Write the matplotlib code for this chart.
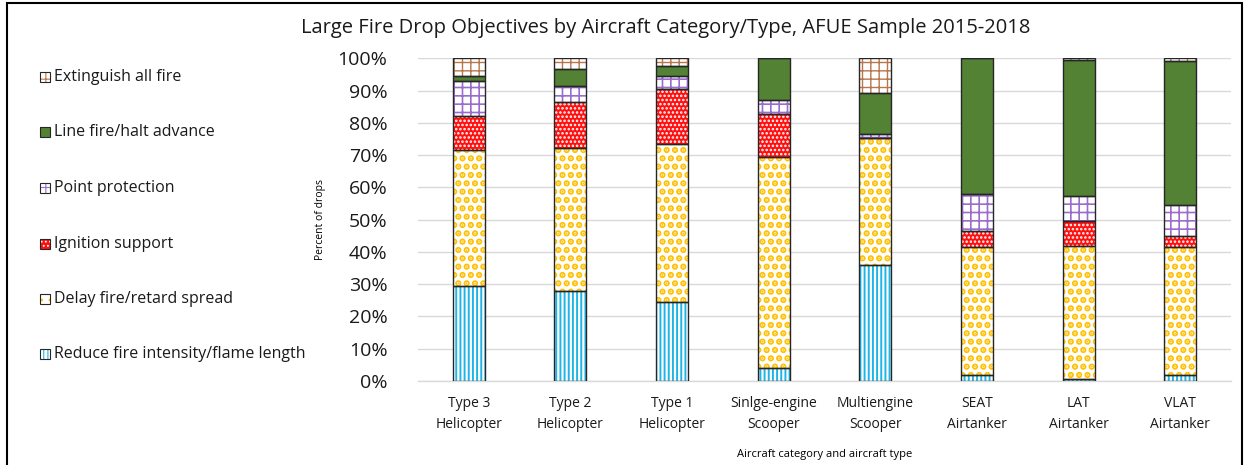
import numpy as np
import matplotlib
matplotlib.use("Agg")
import matplotlib.pyplot as plt
from matplotlib.patches import Rectangle

plt.rcParams['font.family'] = ['Open Sans', 'DejaVu Sans']

# Daten (Prozent der Abwuerfe)
categories = ["Type 3\nHelicopter", "Type 2\nHelicopter", "Type 1\nHelicopter",
              "Sinlge-engine\nScooper", "Multiengine\nScooper", "SEAT\nAirtanker",
              "LAT\nAirtanker", "VLAT\nAirtanker"]
series_names = ["Reduce fire intensity/flame length", "Delay fire/retard spread",
                "Ignition support", "Point protection", "Line fire/halt advance",
                "Extinguish all fire"]
reduce_fire = [29.4, 27.8, 24.4, 4.0, 35.8, 1.8, 0.7, 1.8]
delay_fire = [42.2, 44.3, 49.1, 65.5, 39.4, 39.6, 41.2, 39.6]
ignition = [10.6, 14.5, 17.0, 13.1, 0.0, 5.0, 7.6, 3.5]
point_prot = [10.8, 4.8, 4.1, 4.5, 1.2, 11.6, 7.7, 9.6]
line_fire = [1.6, 5.3, 3.0, 12.9, 12.8, 42.0, 42.3, 44.7]
extinguish = [5.4, 3.3, 2.4, 0.0, 10.8, 0.0, 0.5, 0.8]
series = [reduce_fire, delay_fire, ignition, point_prot, line_fire, extinguish]

# Stil: (Flaechenfarbe, Schraffur, Schraffurfarbe, Schraffurbreite)
styles = [
    ("white", "||||", "#1FB4E6", 1.4),
    ("white", "..", "#FFC000", 3.2),
    ("#FF1010", "....", "white", 1.2),
    ("white", "++", "#9A6CCC", 1.2),
    ("#548235", None, None, 1.0),
    ("white", "++", "#B8764A", 1.0),
]

fig = plt.figure(figsize=(12.47, 4.65), dpi=100)
ax = fig.add_axes([0.3352, 0.1806, 0.652, 0.694])

x = np.arange(len(categories))
width = 0.315
bottom = np.zeros(len(categories))
for vals, (fc, hatch, hc, hlw) in zip(series, styles):
    vals = np.array(vals)
    with plt.rc_context({"hatch.linewidth": hlw}):
        bars = ax.bar(x, vals, width, bottom=bottom, color=fc, hatch=hatch,
                      edgecolor=hc if hc else fc, linewidth=0, zorder=2)
        for b in bars:
            if hasattr(b, "set_hatch_linewidth"):
                b.set_hatch_linewidth(hlw)
    ax.bar(x, vals, width, bottom=bottom, fill=False, edgecolor="#262626",
           linewidth=1.0, zorder=3)
    bottom += vals

ax.set_xlim(-0.5, len(categories) - 0.5)
ax.set_ylim(0, 100)
ax.set_yticks(np.arange(0, 101, 10))
ax.set_yticklabels([f"{v}%" for v in range(0, 101, 10)], fontsize=14)
ax.set_xticks(x)
ax.set_xticklabels(categories, fontsize=10, linespacing=1.55)
ax.tick_params(axis="y", length=0, pad=22, labelcolor="#1a1a1a")
ax.tick_params(axis="x", length=0, pad=11, labelcolor="#1a1a1a")
ax.grid(axis="y", color="#D9D9D9", linewidth=1.0, zorder=0)
ax.set_axisbelow(True)
for s in ["top", "right", "left"]:
    ax.spines[s].set_visible(False)
ax.spines["bottom"].set_color("#D9D9D9")
ax.spines["bottom"].set_linewidth(1.0)

ax.set_ylabel("Percent of drops", fontsize=7.5, labelpad=8)
ax.set_xlabel("Aircraft category and aircraft type", fontsize=8, labelpad=12)

fig.text(0.534, 0.94, "Large Fire Drop Objectives by Aircraft Category/Type, AFUE Sample 2015-2018",
         ha="center", va="center", fontsize=14.5, color="#1a1a1a")

# Legende links (von oben nach unten umgekehrt)
leg_y = [77, 132, 188, 244, 299, 354]
for name, (fc, hatch, hc, hlw), yp in zip(series_names[::-1], styles[::-1], leg_y):
    y0 = 1 - (yp + 5) / 465
    with plt.rc_context({"hatch.linewidth": 0.8}):
        r = Rectangle((40 / 1247, y0), 10 / 1247, 10 / 465, transform=fig.transFigure,
                      facecolor=fc, hatch=hatch, edgecolor=hc if hc else fc, linewidth=0)
    fig.add_artist(r)
    fig.add_artist(Rectangle((40 / 1247, y0), 10 / 1247, 10 / 465, transform=fig.transFigure,
                             fill=False, edgecolor="#262626", linewidth=0.8))
    fig.text(54 / 1247, 1 - yp / 465, name, ha="left", va="center", fontsize=11.5,
             color="#1a1a1a")

# Rahmen
fig.add_artist(Rectangle((7 / 1247, -0.05), 1235 / 1247, 1.05 - 3 / 465,
                         transform=fig.transFigure, fill=False, edgecolor="black",
                         linewidth=1.5))

fig.savefig("out.png", dpi=100)
